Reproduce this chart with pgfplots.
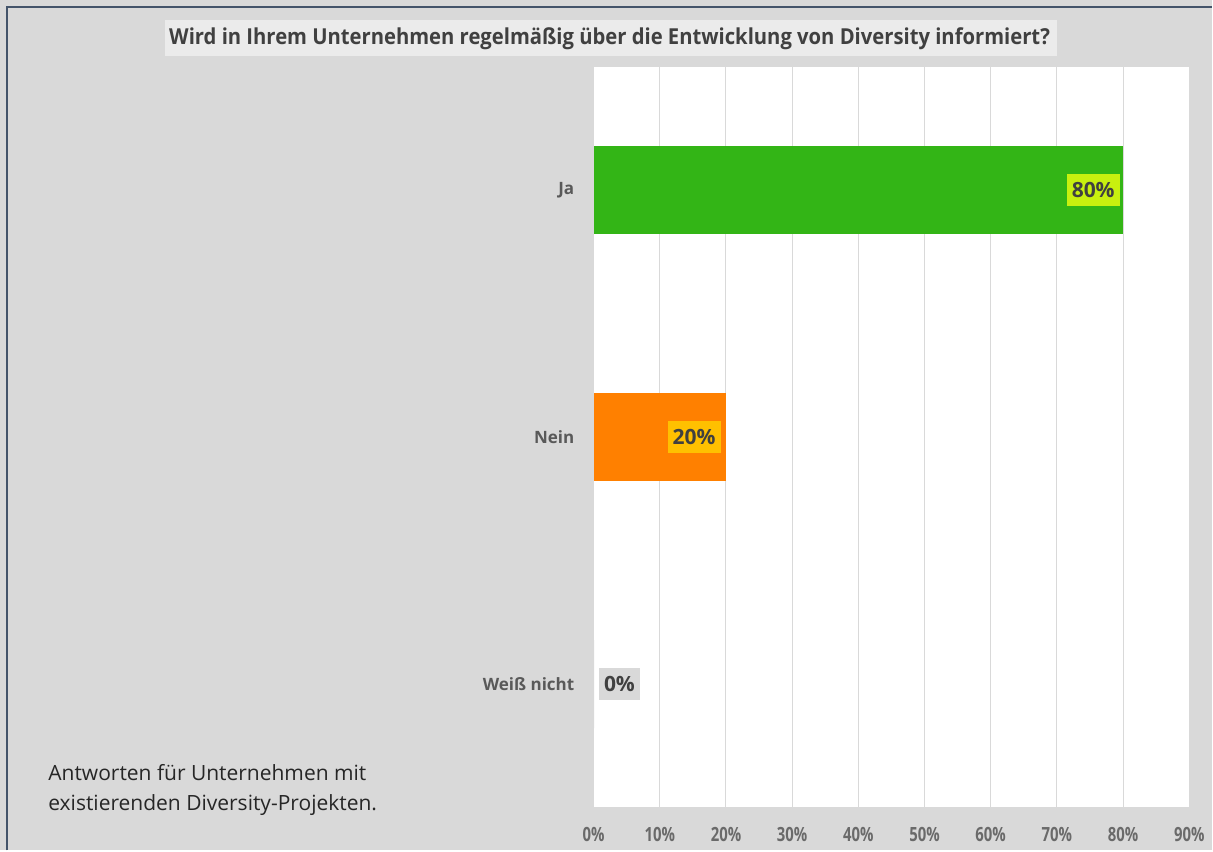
\documentclass[border=0pt]{standalone}
\usepackage{pgfplots}
\pgfplotsset{compat=1.18}
\usepackage{fontspec}
\setmainfont{Open Sans}
\newfontfamily\condfont[FakeStretch=0.76]{Open Sans}
\newfontfamily\titlefont[FakeStretch=0.92]{Open Sans}
\definecolor{bg}{HTML}{D9D9D9}
\definecolor{titlebg}{HTML}{EBEBEB}
\definecolor{frame}{HTML}{44546A}
\definecolor{txt}{HTML}{595959}
\definecolor{tick}{HTML}{6A6A6A}
\definecolor{lbl}{HTML}{404040}
\definecolor{barG}{HTML}{33B516}
\definecolor{barO}{HTML}{FF8000}
\definecolor{lblG}{HTML}{C8F00F}
\definecolor{lblO}{HTML}{FFC000}
\definecolor{gridc}{HTML}{D9D9D9}
\begin{document}
\begin{tikzpicture}
\begin{scope}[x=0.5pt,y=-0.5pt]
\fill[bg] (0,0) rectangle (1213,851);
\draw[frame, line width=0.8pt] (7,851) -- (7,7) -- (1213,7);
\fill[titlebg] (165,20) rectangle (1058,56);
\node[font=\titlefont\bfseries\fontsize{11}{13}\selectfont, text=lbl, anchor=center] at (610,39) {Wird in Ihrem Unternehmen regelmäßig über die Entwicklung von Diversity informiert?};
\node[font=\fontsize{10.5}{15}\selectfont, text=black!85, anchor=north west, align=left, inner sep=0pt] at (48,765) {Antworten für Unternehmen mit\\existierenden Diversity-Projekten.};
\end{scope}
\begin{axis}[
  at={(297pt,-404pt)}, anchor=south west,
  scale only axis, width=298pt, height=370.5pt,
  xmin=0, xmax=90, ymin=-0.5, ymax=2.5, y dir=reverse,
  axis background/.style={fill=white},
  axis line style={draw=none},
  xbar, bar width=44pt,
  xtick={0,10,...,90},
  xticklabel={\pgfmathprintnumber{\tick}\%},
  xticklabel style={font=\condfont\bfseries\fontsize{9.8}{12}\selectfont, text=tick, inner sep=0pt, yshift=-9.5pt},
  ytick={0,1,2},
  yticklabels={Ja, Nein, Weiß nicht},
  yticklabel style={font=\bfseries\fontsize{8.5}{10}\selectfont, text=txt, inner sep=0pt, xshift=-9.5pt},
  major tick length=0pt,
  xmajorgrids, grid style={gridc, line width=0.5pt},
  /pgf/number format/assume math mode=true,
  nodes near coords,
  nodes near coords style={font=\bfseries\fontsize{10.5}{12}\selectfont, text=lbl, inner xsep=2.5pt, inner ysep=2pt, minimum height=16pt},
  point meta=explicit symbolic,
]
\addplot[fill=barG, draw=none, bar shift=0pt, nodes near coords style={fill=lblG, anchor=east, xshift=-1.5pt}] coordinates {(80,0) [80\%]};
\addplot[fill=barO, draw=none, bar shift=0pt, nodes near coords style={fill=lblO, anchor=east, xshift=-2.5pt}] coordinates {(20,1) [20\%]};
\addplot[fill=bg, draw=none, bar shift=0pt, nodes near coords style={fill=bg, anchor=west, xshift=2.5pt}] coordinates {(0,2) [0\%]};
\end{axis}
\end{tikzpicture}
\end{document}
